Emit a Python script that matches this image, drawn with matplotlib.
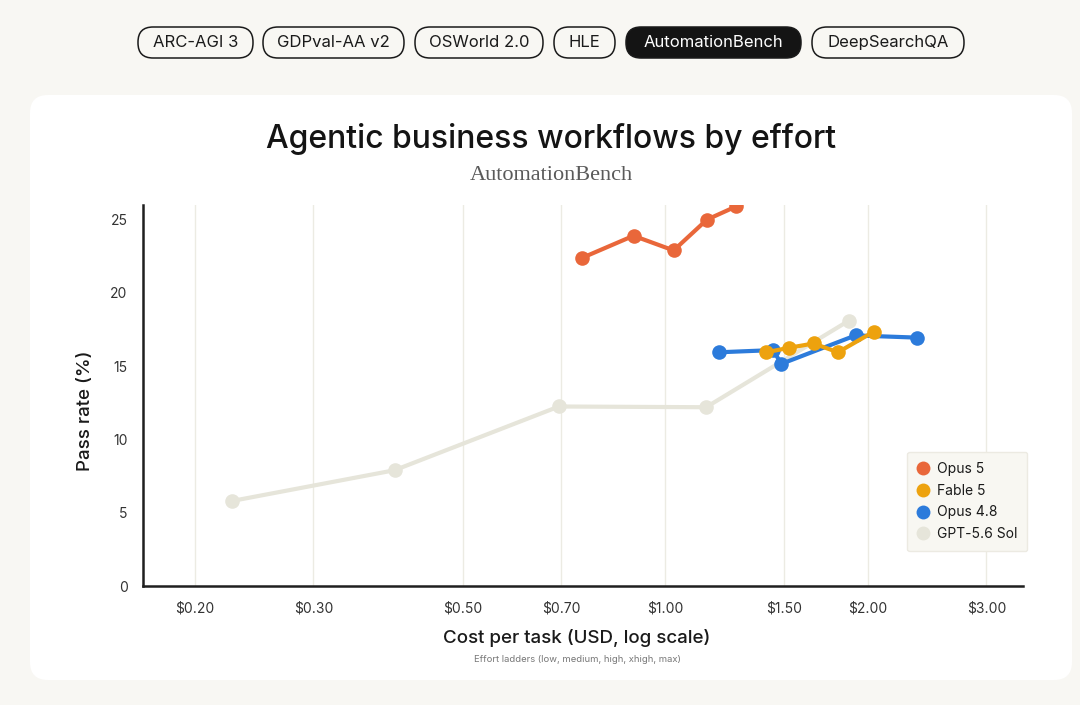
import numpy as np
import matplotlib
matplotlib.use("Agg")
import matplotlib.pyplot as plt
from matplotlib.patches import FancyBboxPatch
from matplotlib.lines import Line2D
from matplotlib.transforms import IdentityTransform

# -----------------------------
# Data (cost per task in USD, pass rate in %)
# -----------------------------
opus5_cost = [0.753, 0.897, 1.029, 1.153, 1.274]
opus5_pass = [22.4, 23.9, 22.9, 25.0, 25.9]

fable5_cost = [1.413, 1.525, 1.661, 1.805, 2.04]
fable5_pass = [15.95, 16.25, 16.55, 15.95, 17.35]

opus48_cost = [1.203, 1.448, 1.486, 1.917, 2.366]
opus48_pass = [15.95, 16.1, 15.15, 17.1, 16.95]

gpt_cost = [0.227, 0.396, 0.695, 1.15, 1.873]
gpt_pass = [5.8, 7.9, 12.25, 12.2, 18.1]

series_names = ["Opus 5", "Fable 5", "Opus 4.8", "GPT-5.6 Sol"]
series_colors = ["#E9673A", "#EDA20E", "#2C7BDB", "#E6E5DA"]

x_ticks = [0.2, 0.3, 0.5, 0.7, 1.0, 1.5, 2.0, 3.0]
x_tick_labels = ["$0.20", "$0.30", "$0.50", "$0.70", "$1.00", "$1.50", "$2.00", "$3.00"]
y_ticks = [0, 5, 10, 15, 20, 25]

tabs = ["ARC-AGI 3", "GDPval-AA v2", "OSWorld 2.0", "HLE", "AutomationBench", "DeepSearchQA"]
active_tab = "AutomationBench"

# -----------------------------
# Figure layout (pixel based)
# -----------------------------
W, H = 1080, 705
SANS = ["Inter", "DejaVu Sans"]
SERIF = ["Liberation Serif", "DejaVu Serif"]
plt.rcParams["font.family"] = SANS

fig = plt.figure(figsize=(W / 100, H / 100), dpi=100)
fig.patch.set_facecolor("#F8F7F3")


def fx(px):
    return px / W


def fy(py):
    return 1 - py / H


# white card
card = FancyBboxPatch((30 + 18, H - 680 + 18), 1042 - 36, 585 - 36,
                      boxstyle="round,pad=18", transform=IdentityTransform(),
                      facecolor="white", edgecolor="none", zorder=0)
fig.add_artist(card)

# tab pills
tab_edges = [(138, 253), (263, 404), (415, 543), (554, 615), (626, 801), (812, 964)]
for name, (x0, x1) in zip(tabs, tab_edges):
    active = name == active_tab
    r = 15
    pill = FancyBboxPatch((x0 + r, H - 58 + r), (x1 - x0) - 2 * r, 31 - 2 * r,
                          boxstyle="round,pad=15", transform=IdentityTransform(),
                          facecolor="#141414" if active else "none",
                          edgecolor="#1a1a1a", linewidth=1.1, zorder=2)
    fig.add_artist(pill)
    fig.text(fx((x0 + x1) / 2), fy(42.5), name, ha="center", va="center",
             fontsize=12, color="white" if active else "#1a1a1a", zorder=3)

# titles
fig.text(fx(551), fy(139), "Agentic business workflows by effort", ha="center",
         va="center", fontsize=23, fontweight=500, color="#141414")
fig.text(fx(551), fy(176), "AutomationBench", ha="center", va="center",
         fontsize=16, color="#5a5a5a", family=SERIF)

# -----------------------------
# Axes
# -----------------------------
ax = fig.add_axes([fx(143), fy(586), fx(1023) - fx(143), (586 - 205) / H])
ax.set_facecolor("none")
ax.set_xscale("log")
ax.set_xlim(0.1675, 3.40)
ax.set_ylim(0, 26)

line_kw = dict(linewidth=3.0, marker="o", markersize=10.5, markeredgewidth=0,
               solid_capstyle="round")
ax.plot(gpt_cost, gpt_pass, color=series_colors[3], zorder=3, **line_kw)
ax.plot(opus48_cost, opus48_pass, color=series_colors[2], zorder=4, **line_kw)
ax.plot(fable5_cost, fable5_pass, color=series_colors[1], zorder=5, **line_kw)
ax.plot(opus5_cost, opus5_pass, color=series_colors[0], zorder=6, **line_kw)

ax.set_xticks(x_ticks)
ax.set_xticklabels(x_tick_labels)
ax.xaxis.set_minor_locator(matplotlib.ticker.NullLocator())
ax.set_yticks(y_ticks)
ax.tick_params(axis="both", length=0, labelsize=10, labelcolor="#333333")
ax.tick_params(axis="x", pad=11)
ax.tick_params(axis="y", pad=11)
ax.grid(axis="x", color="#ECEBE3", linewidth=1.0, zorder=0)
ax.set_axisbelow(True)

for side in ["top", "right"]:
    ax.spines[side].set_visible(False)
for side in ["left", "bottom"]:
    ax.spines[side].set_color("#1f1f1f")
    ax.spines[side].set_linewidth(1.8)

fig.text(fx(85), fy(411), "Pass rate (%)", rotation=90, ha="center", va="center",
         fontsize=13.5, fontweight=500, color="#1a1a1a")
fig.text(fx(577), fy(638), "Cost per task (USD, log scale)", ha="center",
         va="center", fontsize=13.5, fontweight=500, color="#1a1a1a")
fig.text(fx(577), fy(660), "Effort ladders (low, medium, high, xhigh, max)",
         ha="center", va="center", fontsize=6.8, color="#777777")

# legend
handles = [Line2D([], [], linestyle="none", marker="o", markersize=10,
                  markeredgewidth=0, color=c) for c in series_colors]
leg = ax.legend(handles, series_names, loc="upper left",
                bbox_to_anchor=(0.868, 0.3525), borderaxespad=0,
                fontsize=10, frameon=True, fancybox=True, handlelength=0.8,
                handletextpad=0.6, labelspacing=0.55, borderpad=0.75)
frame = leg.get_frame()
frame.set_facecolor("#F8F7F2")
frame.set_edgecolor("#ECEAE2")
frame.set_alpha(1)
frame.set_linewidth(1)
for t in leg.get_texts():
    t.set_color("#1a1a1a")

plt.savefig("out.png", dpi=100, facecolor=fig.get_facecolor())
